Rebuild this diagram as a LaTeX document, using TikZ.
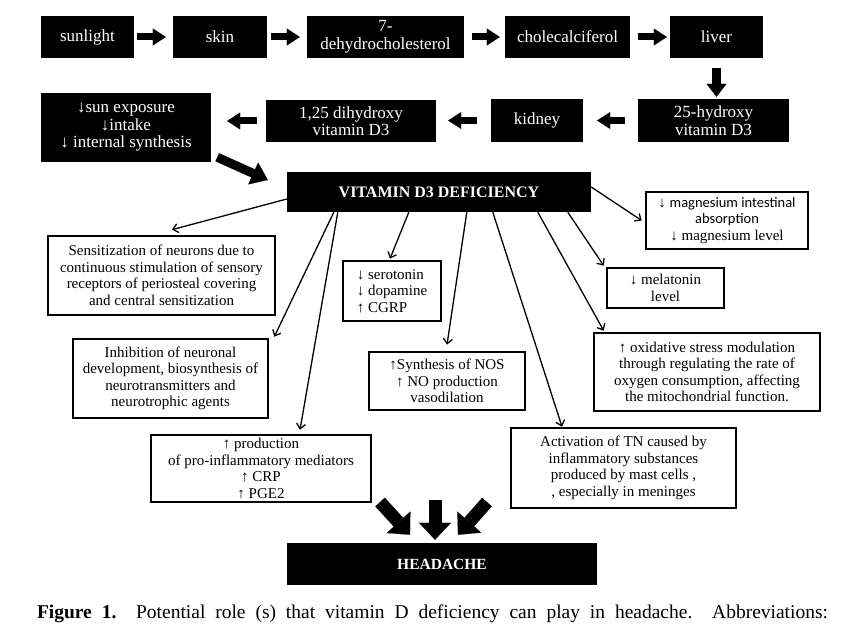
\documentclass[tikz,border=0pt]{standalone}
\usepackage{fontspec}
\setmainfont{Liberation Serif}
\newfontfamily\sansf{Carlito}
\usetikzlibrary{arrows.meta,calc}
\begin{document}
\begin{tikzpicture}[x=1pt,y=-1pt,
  blk/.style={fill=black, text=white, inner sep=0pt, align=center, font=\fontsize{17}{17.5}\selectfont},
  obox/.style={draw=black, line width=2.6pt, fill=white, inner sep=0pt, align=center, font=\fontsize{15}{16.5}\selectfont},
  barrow/.style={line width=7pt, -{Triangle[length=13pt,width=17pt,line width=0.1pt]}},
  varrow/.style={line width=9pt, -{Triangle[length=13pt,width=20pt,line width=0.1pt]}},
  darrow/.style={line width=9pt, -{Triangle[length=16pt,width=24pt,line width=0.1pt]}},
  harrow/.style={line width=13pt, -{Triangle[length=17pt,width=32pt,line width=0.1pt]}},
  conn/.style={line width=1.3pt, -{Straight Barb[length=5pt,width=9pt]}}
]
\useasboundingbox (0,0) rectangle (847,631);

% black boxes
\node[blk, minimum width=93pt, minimum height=42pt] (sun) at (87.5,37) {sunlight};
\node[blk, minimum width=94pt, minimum height=42pt] (skin) at (220,37) {skin};
\node[blk, minimum width=157pt, minimum height=42pt] (dehy) at (385.5,37) {7-\\dehydrocholesterol};
\node[blk, minimum width=125pt, minimum height=42pt] (chole) at (567.5,37) {cholecalciferol};
\node[blk, minimum width=93pt, minimum height=42pt] (liver) at (716.5,37) {liver};
\node[blk, minimum width=151pt, minimum height=43pt] (hyd) at (713.5,120.5) {25-hydroxy\\vitamin D3};
\node[blk, minimum width=92pt, minimum height=43pt] (kidney) at (537,120.5) {kidney};
\node[blk, minimum width=170pt, minimum height=42pt] (dihyd) at (351,121) {1,25 dihydroxy\\vitamin D3};
\node[blk, minimum width=170pt, minimum height=69pt] (sunexp) at (126,127.5) {↓sun exposure\\↓intake\\↓ internal synthesis};
\node[blk, minimum width=304pt, minimum height=40pt, font=\fontsize{16}{18}\selectfont\bfseries] (vit) at (439,192) {VITAMIN D3 DEFICIENCY};
\node[blk, minimum width=310pt, minimum height=42pt, font=\fontsize{15.5}{18}\selectfont\bfseries] (head) at (442,564) {HEADACHE};

% outlined boxes
\node[obox, minimum width=227pt, minimum height=79pt] (sens) at (161.5,275.5) {Sensitization of neurons due to\\continuous stimulation of sensory\\receptors of periosteal covering\\and central sensitization};
\node[obox, minimum width=195pt, minimum height=79pt] (inhib) at (170.5,378.5) {Inhibition of neuronal\\development, biosynthesis of\\neurotransmitters and\\neurotrophic agents};
\node[obox, minimum width=220pt, minimum height=67pt] (prod) at (261,468.5) {↑ production\\of pro-inflammatory mediators\\↑ CRP\\↑ PGE2};
\node[obox, minimum width=98pt, minimum height=60pt, align=left] (sero) at (392,291) {↓ serotonin\\↓ dopamine\\↑ CGRP};
\node[obox, minimum width=156pt, minimum height=58pt] (nos) at (447,381) {↑Synthesis of NOS\\↑ NO production\\vasodilation};
\node[obox, minimum width=225pt, minimum height=80pt] (act) at (623.5,468) {Activation of TN caused by\\inflammatory substances\\produced by mast cells ,\\, especially in meninges};
\node[obox, minimum width=162pt, minimum height=57pt] (mag) at (727,220.5) {↓ {\sansf\fontsize{14.5}{16.5}\selectfont magnesium intestinal}\\{\sansf\fontsize{14.5}{16.5}\selectfont absorption}\\↓ magnesium level};
\node[obox, minimum width=117pt, minimum height=40pt] (mel) at (665.5,288) {↓ melatonin\\level};
\node[obox, minimum width=226pt, minimum height=78pt] (oxi) at (707,372) {↑ oxidative stress modulation\\through regulating the rate of\\oxygen consumption, affecting\\the mitochondrial function.};

% block arrows of the pathway
\draw[barrow, shorten <=3pt, shorten >=7pt] (sun.east) -- (skin.west);
\draw[barrow, shorten <=4pt, shorten >=7pt] (skin.east) -- (dehy.west);
\draw[barrow, shorten <=8pt, shorten >=5pt] (dehy.east) -- (chole.west);
\draw[barrow, shorten <=8pt, shorten >=3pt] (chole.east) -- (liver.west);
\draw[varrow, shorten <=10pt, shorten >=2pt] (liver.south) -- (liver.south |- hyd.north);
\draw[barrow, shorten <=13pt, shorten >=14pt] (hyd.west) -- (kidney.east);
\draw[barrow, shorten <=14pt, shorten >=12pt] (kidney.west) -- (kidney.west -| dihyd.east);
\draw[barrow, shorten <=9pt, shorten >=16pt] (dihyd.west) -- (dihyd.west -| sunexp.east);
\draw[darrow] ([xshift=6pt,yshift=5pt]sunexp.south east) -- ([xshift=-19pt,yshift=12pt]vit.west);

% connectors from the deficiency
\draw[conn] ([yshift=-7pt]vit.west) -- ([xshift=10.5pt,yshift=5pt]sens.north);
\draw[conn] ([xshift=47pt]vit.south west) -- ([xshift=5pt,yshift=1pt]inhib.north east);
\draw[conn] ([xshift=51pt]vit.south west) -- ([xshift=39pt,yshift=4pt]prod.north);
\draw[conn] ([xshift=122pt]vit.south west) -- ([xshift=-2pt,yshift=1pt]sero.north);
\draw[conn] ([xshift=180pt]vit.south west) -- ([yshift=6pt]nos.north);
\draw[conn] ([xshift=206pt]vit.south west) -- ([xshift=-61.5pt]act.north);
\draw[conn] ([xshift=251pt]vit.south west) -- ([xshift=11pt,yshift=1pt]oxi.north west);
\draw[conn] ([xshift=281pt]vit.south west) -- ([xshift=-2pt,yshift=1pt]mel.north west);
\draw[conn] ([yshift=5pt]vit.east) -- ([xshift=-3pt]mag.west);

% arrows into headache
\coordinate (hl) at (380,502);
\coordinate (hm) at (435,500);
\coordinate (hr) at (487,502);
\draw[harrow] (hl) -- ([xshift=-32pt,yshift=8pt]head.north);
\draw[harrow] (hm) -- ([xshift=-7pt,yshift=3pt]head.north);
\draw[harrow] (hr) -- ([xshift=16pt,yshift=8pt]head.north);

% caption
\node[inner sep=0pt] (cap) at (432.5,614) {\fontsize{19.5}{22}\selectfont\makebox[791pt][s]{\textbf{Figure 1.}\ \ Potential role (s) that vitamin D deficiency can play in headache.\ \ Abbreviations:}};
\end{tikzpicture}
\end{document}
